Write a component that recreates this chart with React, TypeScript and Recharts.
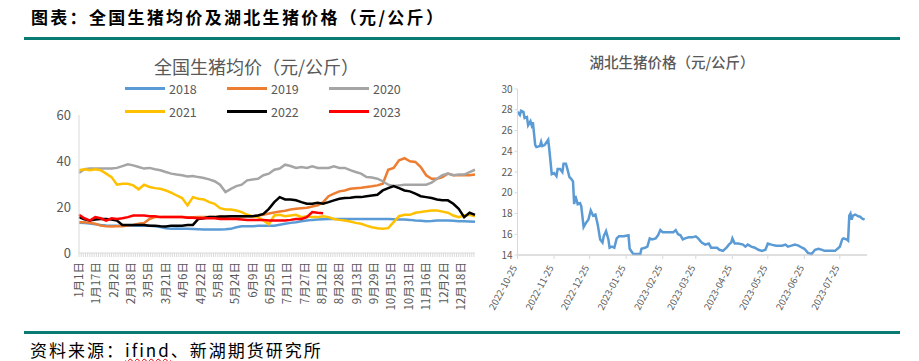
import React from "react";
import { LineChart, Line, XAxis, YAxis } from "recharts";

const FONT = '"Noto Sans CJK SC", "Noto Sans", sans-serif';
const TEXT_GRAY = "#595959";
const AXIS_GRAY = "#d9d9d9";
const TEAL = "#0a7b72";

// 全国生猪均价 — day of year (0 = 1月1日), sampled every 5 days
const yearDays = [
  0, 5, 10, 15, 20, 25, 30, 35, 40, 45, 50, 55, 60, 65, 70, 75, 80, 85, 90, 95,
  100, 105, 110, 115, 120, 125, 130, 135, 140, 145, 150, 155, 160, 165, 170, 175,
  180, 185, 190, 195, 200, 205, 210, 215, 220, 225, 230, 235, 240, 245, 250, 255,
  260, 265, 270, 275, 280, 285, 290, 295, 300, 305, 310, 315, 320, 325, 330, 335,
  340, 345, 350, 355, 360, 365,
];

const dateLabels = [
  "1月1日", "1月17日", "2月2日", "2月18日", "3月5日", "3月21日", "4月6日", "4月22日",
  "5月8日", "5月24日", "6月9日", "6月25日", "7月11日", "7月27日", "8月12日", "8月28日",
  "9月13日", "9月29日", "10月15日", "10月31日", "11月16日", "12月2日", "12月18日",
];

const price2018 = [
  13.2, 13.0, 12.8, 12.5, 12.2, 12.0, 11.9, 11.9, 11.9, 11.9, 11.9, 11.9, 11.9, 11.8, 11.6, 11.3, 10.8, 10.5,
  10.6, 10.5, 10.5, 10.4, 10.3, 10.2, 10.2, 10.2, 10.2, 10.3, 10.5, 11.2, 11.6, 11.6, 11.6, 11.8, 11.9, 11.9,
  11.9, 12.3, 12.7, 13.1, 13.4, 13.8, 14.1, 14.4, 14.6, 14.7, 14.8, 14.8, 14.8, 14.8, 14.8, 14.8, 14.8, 14.8,
  14.8, 14.8, 14.8, 14.8, 14.7, 14.6, 14.6, 14.4, 14.1, 14.0, 13.8, 13.9, 14.1, 14.1, 14.1, 14.0, 13.8, 13.8,
  13.7, 13.6,
];
const price2019 = [
  13.4, 13.4, 13.1, 12.7, 11.9, 11.6, 11.5, 11.6, 11.6, 11.9, 12.2, 12.7, 13.0, 14.8, 15.6, 15.6, 15.7, 15.7,
  15.6, 15.6, 15.5, 15.5, 15.6, 15.6, 15.6, 15.7, 15.8, 15.8, 15.9, 15.9, 15.9, 16.0, 16.0, 16.3, 16.6, 17.2,
  17.6, 18.0, 18.4, 18.9, 19.2, 19.5, 19.7, 20.2, 20.7, 22.1, 24.7, 25.8, 26.8, 27.2, 27.9, 28.2, 28.4, 28.7,
  29.0, 29.4, 30.1, 36.2, 37.0, 40.3, 41.2, 39.9, 39.6, 37.4, 33.8, 32.3, 32.3, 33.0, 34.5, 33.8, 33.8, 33.8,
  33.8, 34.1,
];
const price2020 = [
  34.8, 36.4, 36.7, 36.7, 36.7, 36.7, 36.7, 37.0, 37.8, 38.6, 38.1, 37.4, 36.7, 37.0, 36.4, 36.0, 35.2, 34.5,
  34.1, 33.8, 33.3, 33.5, 33.0, 32.6, 32.0, 31.2, 29.7, 26.5, 27.9, 29.1, 29.7, 31.6, 32.0, 32.3, 33.8, 34.5,
  36.2, 36.7, 38.4, 37.8, 37.0, 37.4, 37.0, 37.7, 37.0, 37.0, 37.0, 37.7, 37.0, 37.0, 36.0, 35.2, 34.5, 33.0,
  32.8, 32.3, 31.2, 29.7, 29.1, 29.4, 29.7, 29.7, 29.7, 29.7, 29.7, 30.6, 32.3, 33.8, 34.5, 33.8, 34.1, 34.1,
  35.2, 36.2,
];
const price2021 = [
  36.0, 36.4, 36.0, 36.4, 36.0, 34.5, 33.0, 29.7, 30.1, 30.1, 29.4, 27.7, 29.7, 28.7, 28.2, 27.9, 27.2, 26.2,
  25.0, 23.9, 20.7, 24.3, 23.6, 23.3, 22.1, 21.4, 19.5, 18.9, 18.9, 18.5, 17.8, 16.6, 16.0, 15.6, 14.1, 12.5,
  16.3, 16.6, 16.0, 16.3, 16.6, 15.6, 16.0, 15.6, 15.6, 16.0, 15.6, 14.8, 14.4, 14.1, 13.7, 13.1, 12.7, 11.9,
  11.2, 10.8, 10.5, 10.8, 13.4, 16.0, 16.6, 16.6, 17.5, 17.8, 18.2, 18.5, 18.5, 18.0, 17.5, 16.3, 15.6, 16.3,
  16.6, 16.0,
];
const price2022 = [
  15.6, 14.6, 14.1, 14.6, 14.8, 14.8, 14.6, 14.1, 12.2, 12.2, 12.2, 12.2, 12.2, 11.9, 11.9, 11.6, 11.5, 11.9,
  11.9, 11.9, 12.2, 12.2, 14.8, 15.1, 15.6, 15.6, 15.9, 15.9, 16.0, 16.0, 16.0, 16.0, 16.0, 16.3, 17.0, 19.2,
  22.1, 24.3, 23.3, 23.3, 22.9, 22.1, 21.4, 21.4, 21.8, 21.4, 22.1, 22.9, 23.6, 23.9, 24.0, 24.3, 24.3, 24.7,
  25.0, 25.3, 27.2, 28.2, 29.1, 28.2, 27.2, 26.8, 25.8, 24.7, 24.3, 23.9, 23.3, 22.9, 22.9, 21.4, 19.2, 15.6,
  17.5, 16.6,
];
// 2023 only runs to mid-August
const price2023 = [
  16.6, 15.1, 14.1, 15.6, 15.1, 14.1, 15.1, 14.8, 15.1, 15.6, 16.3, 16.3, 16.3, 16.0, 16.0, 15.6, 15.6, 15.6,
  15.6, 15.6, 15.3, 15.3, 15.1, 15.1, 15.1, 15.1, 14.8, 14.8, 14.8, 14.8, 14.6, 14.4, 14.4, 14.4, 14.4, 14.1,
  14.1, 14.1, 14.1, 14.4, 14.8, 14.8, 15.6, 17.8, 17.5, 17.3,
];

const years = ["2018", "2019", "2020", "2021", "2022", "2023"];
const yearColors = ["#5b9bd5", "#ed7d31", "#a5a5a5", "#ffc000", "#000000", "#ff0000"];
const yearSeries = [price2018, price2019, price2020, price2021, price2022, price2023];

// 湖北生猪价格 — days since 2022-10-25
const hubeiDays = [
  0, 2, 3, 5, 6, 8, 9, 11, 12, 13, 15, 16, 19, 20, 21, 23, 26, 27, 29, 31,
  33, 34, 36, 38, 39, 41, 42, 44, 45, 47, 48, 49, 51, 53, 54, 56, 58, 60, 62, 64,
  66, 67, 68, 70, 72, 73, 75, 77, 78, 80, 82, 84, 86, 90, 94, 95, 98, 101, 104, 105,
  108, 110, 112, 114, 117, 119, 121, 123, 126, 129, 132, 134, 136, 138, 140, 142, 145, 148, 151, 153,
  156, 159, 162, 164, 169, 171, 174, 177, 179, 181, 182, 184, 187, 191, 193, 195, 198, 201, 204, 207,
  210, 212, 215, 219, 224, 227, 229, 232, 235, 238, 241, 243, 246, 249, 252, 255, 258, 260, 265, 269,
  272, 273, 275, 276, 279, 280, 281, 282, 283, 284, 286, 289, 290, 292, 294,
];
const hubeiPrice = [
  27.8, 27.5, 27.9, 27.8, 27.2, 27.3, 26.5, 26.9, 26.5, 26.8, 24.6, 24.4, 24.5, 24.9, 24.5, 24.6, 25.1, 24.1, 21.8, 21.9,
  21.6, 22.3, 22.3, 22.0, 22.8, 22.8, 22.4, 21.5, 21.4, 21.1, 18.9, 19.7, 18.9, 19.0, 18.7, 16.7, 17.1, 17.4, 18.3, 17.8,
  17.9, 17.4, 16.9, 15.5, 15.2, 15.8, 16.3, 15.5, 14.7, 14.8, 14.7, 15.6, 15.8, 15.8, 15.9, 14.6, 14.1, 14.1, 14.1, 14.6,
  14.7, 14.8, 15.6, 15.5, 15.6, 15.9, 16.4, 16.2, 16.2, 16.2, 16.2, 16.4, 16.0, 15.9, 15.5, 15.6, 15.7, 15.7, 15.8, 15.6,
  15.2, 15.0, 15.1, 14.7, 14.7, 14.5, 14.4, 14.7, 15.0, 15.2, 15.6, 15.1, 15.1, 15.0, 14.8, 15.0, 14.8, 14.7, 14.5, 14.4,
  14.5, 15.1, 15.0, 14.9, 14.9, 15.0, 14.8, 14.9, 15.0, 14.9, 14.7, 14.6, 14.2, 14.1, 14.5, 14.6, 14.5, 14.4, 14.4, 14.4,
  14.7, 14.8, 15.5, 15.6, 15.5, 15.4, 17.8, 18.0, 17.4, 17.8, 17.9, 17.7, 17.7, 17.5, 17.4,
];
const hubeiTickDays = [0, 31, 61, 92, 123, 151, 182, 212, 243, 273];
const hubeiTickLabels = [
  "2022-10-25", "2022-11-25", "2022-12-25", "2023-01-25", "2023-02-25",
  "2023-03-25", "2023-04-25", "2023-05-25", "2023-06-25", "2023-07-25",
];

const nationalRows = yearDays.map((day, i) => {
  const row: Record<string, number | null> = { day };
  years.forEach((y, k) => {
    const v = yearSeries[k][i];
    row["y" + y] = v === undefined ? null : v;
  });
  return row;
});
const hubeiRows = hubeiDays.map((day, i) => ({ day, price: hubeiPrice[i] }));

// minor tick every 2 days, label every 16
const dayTicks: number[] = [];
for (let d = 0; d <= 364; d += 2) dayTicks.push(d);

const DateTick = (props: any) => {
  const { x, y, payload } = props;
  const v = payload.value;
  if (v % 16 !== 0) return <g />;
  const label = dateLabels[v / 16];
  return (
    <text
      transform={`translate(${x},${y + 3}) rotate(-90)`}
      textAnchor="end"
      dy="0.35em"
      fontSize={11.5}
      fontFamily={FONT}
      fill={TEXT_GRAY}
    >
      {label}
    </text>
  );
};

const MonthTick = (props: any) => {
  const { x, y, payload } = props;
  const idx = hubeiTickDays.indexOf(payload.value);
  return (
    <text
      transform={`translate(${x - 3},${y + 5}) rotate(-62)`}
      textAnchor="end"
      dy="0.35em"
      fontSize={9.5}
      fontFamily={FONT}
      fill={TEXT_GRAY}
    >
      {hubeiTickLabels[idx]}
    </text>
  );
};

function Legend() {
  return (
    <>
      {years.map((y, i) => {
        const col = i % 3;
        const row = Math.floor(i / 3);
        const left = 125 + col * 102;
        const top = 88 + row * 23;
        return (
          <div key={y} style={{ position: "absolute", left, top: top - 8, height: 16, display: "flex", alignItems: "center" }}>
            <div style={{ width: 40, height: 3, background: yearColors[i] }} />
            <span style={{ marginLeft: 4, fontSize: 12.5, color: TEXT_GRAY, fontFamily: FONT }}>{y}</span>
          </div>
        );
      })}
    </>
  );
}

export default function App() {
  return (
    <div style={{ position: "absolute", left: 0, top: 0, width: 919, height: 361, background: "#fff", overflow: "hidden" }}>
      <div
        style={{
          position: "absolute", left: 31, top: 4, fontSize: 17, fontWeight: 700,
          letterSpacing: 2.3, fontFamily: FONT, color: "#000", whiteSpace: "nowrap",
        }}
      >
        图表：全国生猪均价及湖北生猪价格（元/公斤）
      </div>
      <div style={{ position: "absolute", left: 24, top: 37, width: 876, height: 3, background: TEAL }} />

      <div
        style={{
          position: "absolute", left: 150, top: 53, width: 213, textAlign: "center",
          fontSize: 18, fontFamily: FONT, color: TEXT_GRAY, whiteSpace: "nowrap",
        }}
      >
        全国生猪均价（元/公斤）
      </div>
      <Legend />

      <div style={{ position: "absolute", left: 0, top: 0 }}>
        <LineChart width={480} height={320} data={nationalRows} margin={{ top: 115, right: 5, bottom: 7, left: 39 }}>
          <XAxis
            dataKey="day"
            type="number"
            domain={[0, 365]}
            ticks={dayTicks}
            interval={0}
            tickSize={4}
            tickLine={{ stroke: AXIS_GRAY }}
            axisLine={{ stroke: AXIS_GRAY }}
            height={60}
            tick={(p: any) => <DateTick {...p} />}
          />
          <YAxis
            domain={[0, 60]}
            ticks={[0, 20, 40, 60]}
            width={40}
            axisLine={{ stroke: AXIS_GRAY }}
            tickLine={false}
            tick={{ fontSize: 13, fill: TEXT_GRAY, fontFamily: FONT }}
          />
          {years.map((y, i) => (
            <Line
              key={y}
              type="linear"
              dataKey={"y" + y}
              stroke={yearColors[i]}
              strokeWidth={2.5}
              dot={false}
              isAnimationActive={false}
            />
          ))}
        </LineChart>
      </div>

      <div
        style={{
          position: "absolute", left: 582, top: 51, width: 180, textAlign: "center",
          fontSize: 14.5, fontWeight: 500, fontFamily: FONT, color: TEXT_GRAY, whiteSpace: "nowrap",
        }}
      >
        湖北生猪价格（元/公斤）
      </div>
      <div style={{ position: "absolute", left: 440, top: 0 }}>
        <LineChart width={440} height={320} data={hubeiRows} margin={{ top: 89, right: 13, bottom: 5, left: 52.5 }}>
          <XAxis
            dataKey="day"
            type="number"
            domain={[0, 296]}
            ticks={hubeiTickDays}
            interval={0}
            tickSize={4}
            tickLine={{ stroke: AXIS_GRAY }}
            axisLine={{ stroke: "#bfbfbf" }}
            height={60}
            tick={(p: any) => <MonthTick {...p} />}
          />
          <YAxis
            domain={[14, 30]}
            ticks={[14, 16, 18, 20, 22, 24, 26, 28, 30]}
            width={25}
            tickSize={3}
            tickMargin={2}
            axisLine={{ stroke: AXIS_GRAY }}
            tickLine={{ stroke: AXIS_GRAY }}
            tick={{ fontSize: 10, fill: TEXT_GRAY, fontFamily: FONT }}
          />
          <Line
            type="linear"
            dataKey="price"
            stroke="#5b9bd5"
            strokeWidth={2.5}
            dot={false}
            isAnimationActive={false}
          />
        </LineChart>
      </div>

      <div style={{ position: "absolute", left: 24, top: 331, width: 876, height: 3, background: TEAL }} />
      <div
        style={{
          position: "absolute", left: 30, top: 341, fontSize: 17, lineHeight: "18px", letterSpacing: 2,
          fontFamily: FONT, color: "#000", whiteSpace: "nowrap",
        }}
      >
        资料来源：
        <span style={{ textDecoration: "underline wavy #e00000", textDecorationThickness: 1 }}>ifind</span>
        、新湖期货研究所
      </div>
    </div>
  );
}
